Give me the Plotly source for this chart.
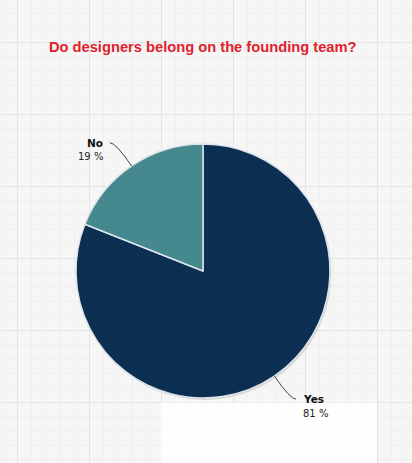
import math
import plotly.graph_objects as go

# ---- data ----
categories = ["Yes", "No"]
values = [81, 19]
colors = ["#0b2e51", "#45898f"]
title_text = "Do designers belong on the founding team?"

# ---- geometry (pixels) ----
W, H = 412, 463
CX, CY, R = 203, 271, 127

fig = go.Figure()

# invisible cartesian trace so the background grid (axes) is drawn
fig.add_trace(go.Scatter(x=[], y=[], hoverinfo="skip", showlegend=False))

fig.add_trace(go.Pie(
    labels=categories, values=values, sort=False, direction="clockwise", rotation=0,
    marker=dict(colors=colors, line=dict(color="#dce3ea", width=1.5)),
    textinfo="none", hoverinfo="skip", showlegend=False,
    domain=dict(x=[(CX - R) / W, (CX + R) / W], y=[(H - CY - R) / H, (H - CY + R) / H]),
))

# labels with curved leader lines, positioned from the slice angles
total = sum(values)
cum = 0
lab_font = "DejaVu Sans, Verdana, sans-serif"
for cat, v in zip(categories, values):
    mid = (cum + v / 2) / total * 2 * math.pi
    cum += v
    dx, dy = math.sin(mid), -math.cos(mid)
    ex, ey = CX + R * dx, CY + R * dy
    bx, by = ex + 28 * dx, ey + 28 * dy
    sx = 1 if dx >= 0 else -1
    lx, ly = bx + 6 * sx, by
    fig.add_shape(type="path", path=f"M {ex:.1f},{ey:.1f} Q {bx:.1f},{by:.1f} {lx:.1f},{ly:.1f}",
                  xref="x", yref="y", line=dict(color="#444444", width=1))
    xa = "left" if sx > 0 else "right"
    fig.add_annotation(x=lx + 5 * sx, y=ly, xref="x", yref="y", text=f"<b>{cat}</b>",
                       xanchor=xa, yanchor="middle", showarrow=False,
                       font=dict(family=lab_font, size=10.5, color="#111111"))
    fig.add_annotation(x=lx + 5 * sx, y=ly + 14, xref="x", yref="y",
                       text=f"{round(v / total * 100)} %",
                       xanchor=xa, yanchor="middle", showarrow=False,
                       font=dict(family=lab_font, size=10, color="#222222"))

# subtle shadow under pie and white patch of the background
fig.add_shape(type="circle", xref="x", yref="y", x0=CX - R + 1.5, x1=CX + R + 1.5,
              y0=CY - R + 2, y1=CY + R + 2, fillcolor="rgba(0,0,0,0.12)", line=dict(width=0),
              layer="between")
fig.add_shape(type="rect", xref="x", yref="y", x0=161, x1=377, y0=402.5, y1=463,
              fillcolor="rgba(255,255,255,0.85)", line=dict(width=0), layer="between")

axis_common = dict(showticklabels=False, ticks="", zeroline=False, showline=False,
                   showgrid=True, gridcolor="#e4e4e4", gridwidth=1, fixedrange=True)
fig.update_layout(
    width=W, height=H, margin=dict(l=0, r=0, t=0, b=0),
    paper_bgcolor="#f6f6f6", plot_bgcolor="#f6f6f6",
    title=dict(text=f"<b>{title_text}</b>", x=0.492, y=1 - 47 / H, xanchor="center", yanchor="middle",
               font=dict(family="Liberation Sans, Arial, sans-serif", size=14.7, color="#e0212c")),
    xaxis=dict(range=[0, W], domain=[0, 1], tick0=17, dtick=72,
               minor=dict(dtick=14.4, tick0=17, showgrid=True, gridcolor="#f0f0f0", ticks=""),
               **axis_common),
    yaxis=dict(range=[H, 0], domain=[0, 1], tick0=42, dtick=72,
               minor=dict(dtick=14.4, tick0=42, showgrid=True, gridcolor="#f0f0f0", ticks=""),
               **axis_common),
    showlegend=False,
)

fig.write_html("out.html", config={"displayModeBar": False},
               post_script="document.body.style.margin='0px';document.body.style.overflow='hidden';")
